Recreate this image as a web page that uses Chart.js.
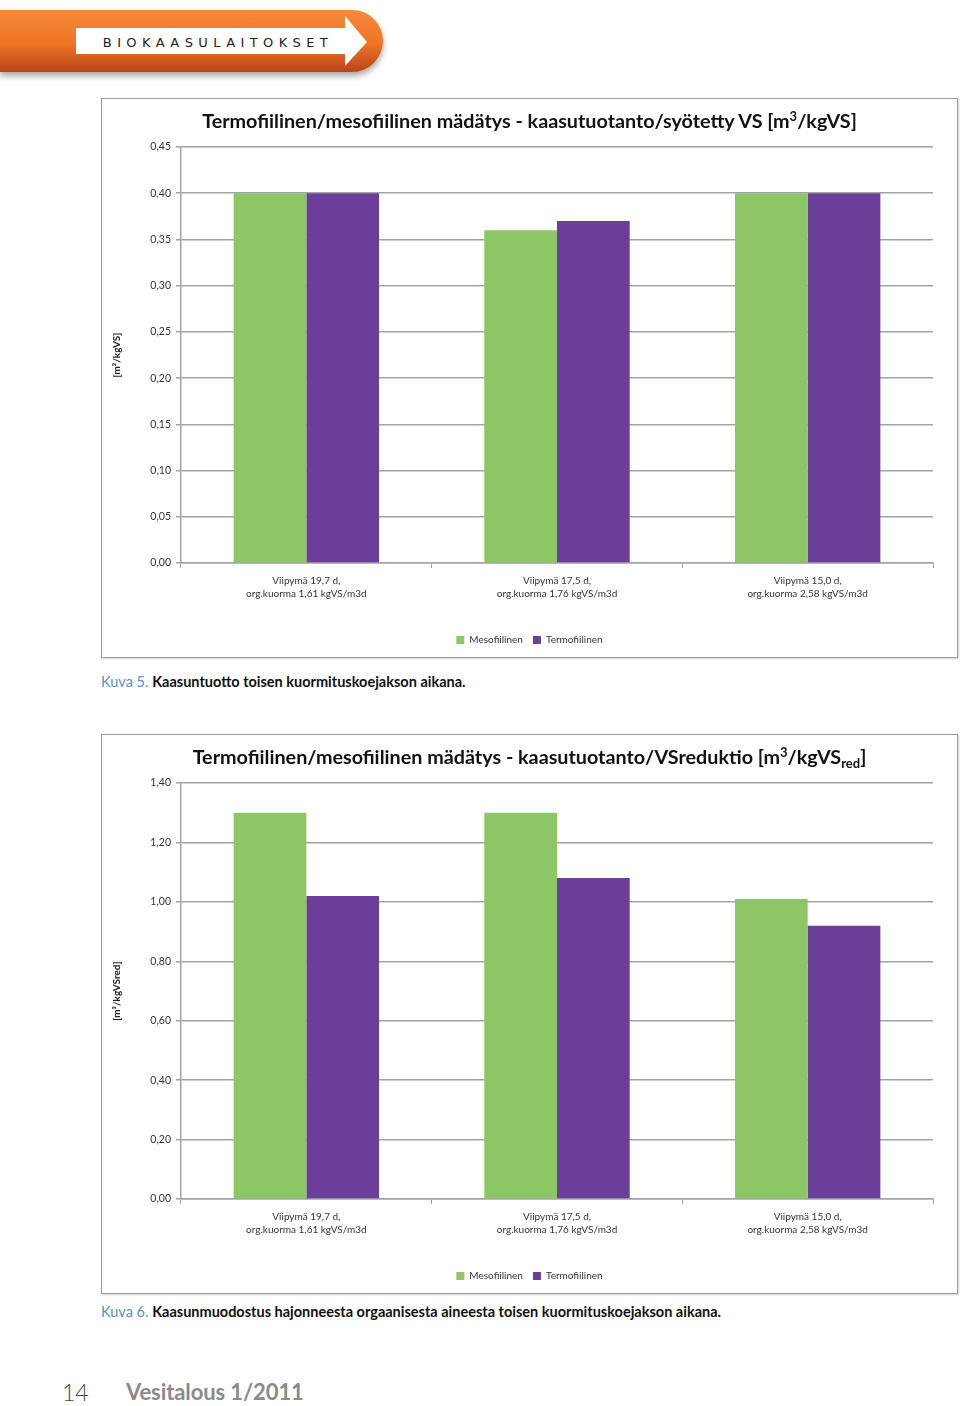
<!DOCTYPE html>
<html>
<head>
<meta charset="utf-8">
<script src="https://cdn.jsdelivr.net/npm/chart.js@4/dist/chart.umd.min.js"></script>
<style>
  html, body { margin: 0; padding: 0; background: #fff; }
  body { width: 960px; height: 1406px; position: relative; overflow: hidden; font-family: Lato, sans-serif; }
  .box { position: absolute; left: 101px; width: 855px; height: 558px; border: 1px solid #9c9c9c; box-shadow: 1px 1px 2px rgba(0,0,0,0.18); }
  .box canvas { position: absolute; left: 0; top: 0; }
  .title { position: absolute; left: 0; width: 855px; text-align: center; font-weight: bold; font-size: 19.75px; color: #111; white-space: nowrap; }
  .title sup { font-size: 13px; vertical-align: 7px; }
  .title sub { font-size: 13px; vertical-align: -4px; }
  .caption { position: absolute; left: 101px; font-size: 14.5px; white-space: nowrap; }
  .caption .k { color: #5b8fbd; }
  .caption b { color: #111; }
  .footer { position: absolute; top: 1378px; font-size: 23px; }
</style>
</head>
<body>

<svg style="position:absolute;left:0;top:0" width="400" height="90">
  <defs>
    <linearGradient id="og" x1="0" y1="0" x2="0" y2="1">
      <stop offset="0" stop-color="#f68a3c"/>
      <stop offset="0.55" stop-color="#ef7424"/>
      <stop offset="1" stop-color="#b9441a"/>
    </linearGradient>
    <filter id="sh" x="-10%" y="-20%" width="120%" height="160%">
      <feGaussianBlur in="SourceAlpha" stdDeviation="3"/>
      <feOffset dy="4"/>
      <feComponentTransfer><feFuncA type="linear" slope="0.35"/></feComponentTransfer>
      <feMerge><feMergeNode/><feMergeNode in="SourceGraphic"/></feMerge>
    </filter>
  </defs>
  <path d="M0 10 H352 A31 31 0 0 1 352 72 H0 Z" fill="url(#og)" filter="url(#sh)"/>
  <path d="M76 28 H345 V16 L367 42 L345 66 V54 H76 Z" fill="#fff"/>
  <text x="218" y="47" text-anchor="middle" font-family="DejaVu Sans, sans-serif" font-size="13" letter-spacing="5.4" fill="#222">BIOKAASULAITOKSET</text>
</svg>

<div class="box" style="top:98px">
  <canvas id="chart1" width="855" height="558"></canvas>
  <div class="title" style="top:9px">Termofiilinen/mesofiilinen mädätys - kaasutuotanto/syötetty VS [m<sup>3</sup>/kgVS]</div>
</div>
<div class="caption" style="top:673px"><span class="k">Kuva 5.</span> <b>Kaasuntuotto toisen kuormituskoejakson aikana.</b></div>

<div class="box" style="top:734px">
  <canvas id="chart2" width="855" height="558"></canvas>
  <div class="title" style="top:9px">Termofiilinen/mesofiilinen mädätys - kaasutuotanto/VSreduktio [m<sup>3</sup>/kgVS<sub>red</sub>]</div>
</div>
<div class="caption" style="top:1303px"><span class="k">Kuva 6.</span> <b>Kaasunmuodostus hajonneesta orgaanisesta aineesta toisen kuormituskoejakson aikana.</b></div>

<div class="footer" style="left:62px;color:#444;font-weight:300">14</div>
<div class="footer" style="left:126px;color:#8a8a8a;font-weight:bold;font-size:22px;letter-spacing:-0.1px">Vesitalous 1/2011</div>

<script>
const categories = [
  ['Viipymä 19,7 d,', 'org.kuorma 1,61 kgVS/m3d'],
  ['Viipymä 17,5 d,', 'org.kuorma 1,76 kgVS/m3d'],
  ['Viipymä 15,0 d,', 'org.kuorma 2,58 kgVS/m3d']
];
const seriesNames = ['Mesofiilinen', 'Termofiilinen'];

// Kuva 5: kaasutuotanto / syötetty VS
const mesoFeed = [0.40, 0.36, 0.40];
const termoFeed = [0.40, 0.37, 0.40];
// Kuva 6: kaasutuotanto / VS-reduktio
const mesoRed = [1.30, 1.30, 1.01];
const termoRed = [1.02, 1.08, 0.92];

const green = '#8cc665';
const purple = '#6b3f99';
const gridColor = '#a3a3a3';

function makeChart(id, meso, termo, yMax, yStep, yTitle) {
  return new Chart(document.getElementById(id), {
    type: 'bar',
    data: {
      labels: categories,
      datasets: [
        { label: seriesNames[0], data: meso, backgroundColor: green },
        { label: seriesNames[1], data: termo, backgroundColor: purple }
      ]
    },
    options: {
      responsive: false,
      animation: false,
      devicePixelRatio: 1,
      // equal side padding keeps the legend centred in the box
      layout: { padding: { left: 24, right: 24, top: 48, bottom: 2 } },
      datasets: { bar: { barPercentage: 1, categoryPercentage: 0.58 } },
      plugins: {
        title: { display: false },
        tooltip: { enabled: false },
        legend: {
          position: 'bottom',
          labels: {
            boxWidth: 8, boxHeight: 8, padding: 10,
            color: '#333', font: { family: 'Lato', size: 10 }
          }
        }
      },
      scales: {
        x: {
          afterFit: s => { s.height = 62; },
          grid: { offset: true, drawOnChartArea: false, drawTicks: true, tickLength: 5, color: gridColor },
          border: { color: gridColor, width: 1.5 },
          ticks: { color: '#333', font: { family: 'Lato', size: 10, lineHeight: 1.3 }, padding: 6, maxRotation: 0 }
        },
        y: {
          min: 0, max: yMax,
          afterFit: s => { s.width = 55; },
          grid: { color: gridColor, lineWidth: 1.5, tickLength: 5 },
          border: { color: gridColor, width: 1.5 },
          ticks: {
            stepSize: yStep, color: '#333', padding: 5,
            font: { family: 'Lato', size: 10.5 },
            callback: v => v.toFixed(2).replace('.', ',')
          },
          title: {
            display: true, text: yTitle, color: '#222',
            font: { family: 'Lato', size: 10, weight: 'bold' },
            padding: { top: -15, bottom: 0 }
          }
        }
      }
    }
  });
}

makeChart('chart1', mesoFeed, termoFeed, 0.45, 0.05, '[m³/kgVS]');
makeChart('chart2', mesoRed, termoRed, 1.4, 0.2, '[m³/kgVSred]');
</script>
</body>
</html>
